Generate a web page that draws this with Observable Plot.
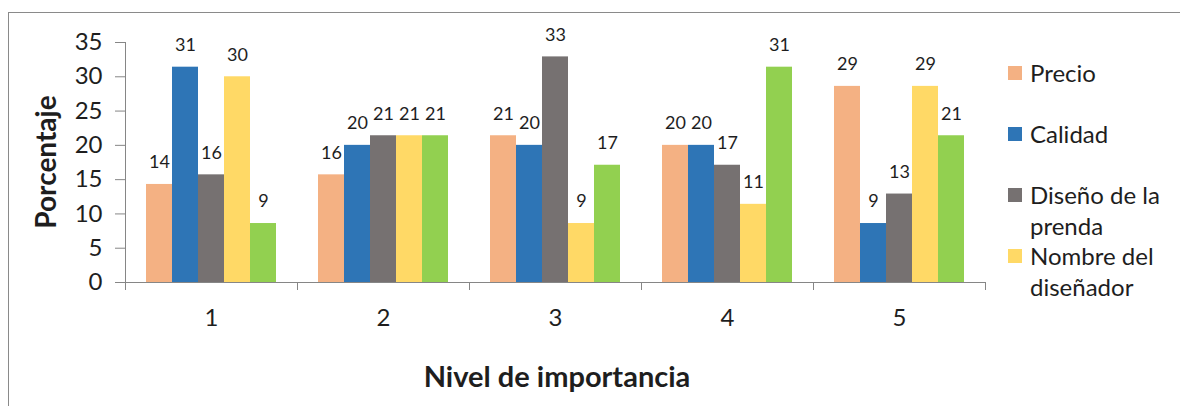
<!DOCTYPE html>
<html>
<head>
<meta charset="utf-8">
<script src="https://cdn.jsdelivr.net/npm/d3@7"></script>
<script src="https://cdn.jsdelivr.net/npm/@observablehq/plot@0.6"></script>
<style>
  html, body { margin: 0; padding: 0; background: #fff; overflow: hidden; }
  #wrap { position: relative; width: 1180px; height: 406px; font-family: Lato, "Open Sans", sans-serif; color: #1e1e1e; }
  #border { position: absolute; left: 8px; top: 12px; width: 1300px; height: 500px;
            border-left: 1px solid #8a8a8a; border-top: 1px solid #8a8a8a; box-sizing: border-box; }
  #chart { position: absolute; left: 0; top: 0; }
  .title { position: absolute; font-weight: bold; white-space: nowrap; }
  #ytitle { left: 45px; top: 162px; font-size: 28px; transform: translate(-50%, -50%) rotate(-90deg); }
  #xtitle { left: 557px; top: 375px; font-size: 29px; transform: translate(-50%, -50%); }
  #legend { position: absolute; left: 1008px; top: 57px; }
  .item { height: 61px; display: flex; align-items: flex-start; }
  .sw { width: 14px; height: 14px; margin-top: 9px; flex: none; }
  .lab { margin-left: 8px; font-size: 24px; line-height: 31px; width: 160px; }
</style>
</head>
<body>
<div id="wrap">
  <div id="border"></div>
  <div id="chart"></div>
  <div class="title" id="ytitle">Porcentaje</div>
  <div class="title" id="xtitle">Nivel de importancia</div>
  <div id="legend"></div>
</div>
<script>
// Importance levels (x groups) and the factors rated at each level
const niveles = ["1", "2", "3", "4", "5"];
const series = ["Precio", "Calidad", "Diseño de la prenda", "Nombre del diseñador", "Serie 5"];

// Percentage of respondents per factor at each importance level
const precio  = [14.3, 15.7, 21.4, 20.0, 28.6];
const calidad = [31.4, 20.0, 20.0, 20.0, 8.6];
const diseno  = [15.7, 21.4, 32.9, 17.1, 12.9];
const nombre  = [30.0, 21.4, 8.6, 11.4, 28.6];
const serie5  = [8.6, 21.4, 17.1, 31.4, 21.4];

const colores = ["#F4B183", "#2E75B6", "#767171", "#FFD966", "#92D050"];
const yTicks = [0, 5, 10, 15, 20, 25, 30, 35];
const leyenda = ["Precio", "Calidad", "Diseño de la\nprenda", "Nombre del\ndiseñador"];

const valores = [precio, calidad, diseno, nombre, serie5];
const rows = [];
niveles.forEach((nivel, i) => {
  series.forEach((serie, j) => rows.push({nivel, serie, valor: valores[j][i]}));
});

const fmt = d3.format(".0f");
const axisGray = "#868686";
const ink = "#1e1e1e";

const chart = Plot.plot({
  width: 1180,
  height: 406,
  marginLeft: 123,
  marginRight: 193,
  marginTop: 42,
  marginBottom: 124,
  style: {fontFamily: "Lato, 'Open Sans', sans-serif", color: ink, background: "transparent"},
  fx: {domain: niveles, padding: 0, label: null},
  x: {domain: series, paddingInner: 0, paddingOuter: 0.75, axis: null},
  y: {domain: [0, 35], label: null},
  color: {domain: series, range: colores},
  marks: [
    Plot.barY(rows, {fx: "nivel", x: "serie", y: "valor", fill: "serie"}),
    Plot.text(rows, {fx: "nivel", x: "serie", y: "valor", text: d => fmt(d.valor),
                     dy: -22, fontSize: 18, fill: ink}),
    Plot.ruleY([0], {stroke: axisGray}),
    Plot.frame({anchor: "left", facetAnchor: "left", stroke: axisGray}),
    Plot.frame({anchor: "left", insetTop: 240, insetBottom: -7, stroke: axisGray}),
    Plot.frame({anchor: "right", facetAnchor: "right", insetTop: 240, insetBottom: -7, stroke: axisGray}),
    Plot.axisY(yTicks, {anchor: "left", tickSize: 10, tickPadding: 13, fontSize: 24,
                        stroke: axisGray, fill: ink, label: null}),
    Plot.axisFx({anchor: "bottom", tickSize: 0, tickPadding: 26, fontSize: 24, fill: ink, label: null})
  ]
});
document.getElementById("chart").appendChild(chart);

// Legend: swatch + two-line label for the named factors
const leg = d3.select("#legend");
leyenda.forEach((name, i) => {
  const item = leg.append("div").attr("class", "item");
  item.append("div").attr("class", "sw").style("background", colores[i]);
  const lab = item.append("div").attr("class", "lab");
  name.split("\n").forEach((line, k) => {
    if (k) lab.append("br");
    lab.append("span").text(line);
  });
});
</script>
</body>
</html>
